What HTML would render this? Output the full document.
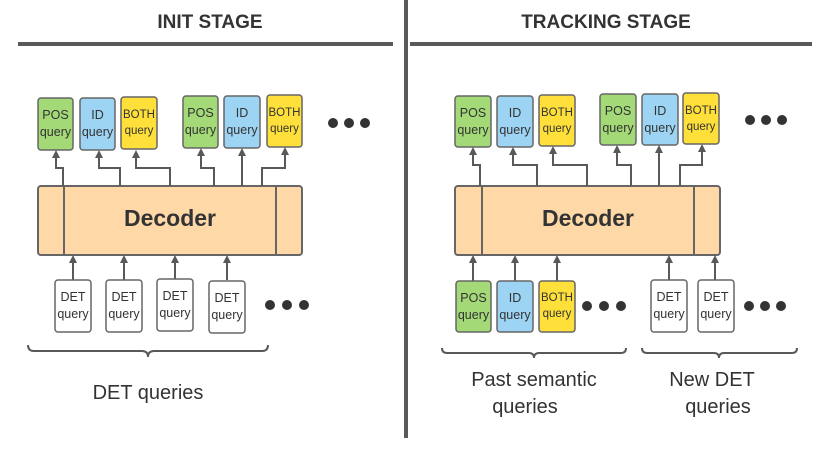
<!DOCTYPE html>
<html><head><meta charset="utf-8"><style>
html,body{margin:0;padding:0;background:#fff;}
svg{display:block;font-family:"Liberation Sans",sans-serif;}
</style></head><body>
<svg width="830" height="450" viewBox="0 0 830 450" xmlns="http://www.w3.org/2000/svg">
<defs>
<marker id="ah" markerWidth="8" markerHeight="8" refX="4" refY="4" orient="auto" markerUnits="userSpaceOnUse">
<path d="M0,0 L8,4 L0,8 z" fill="#595959"/></marker>
</defs>
<line x1="406" y1="0" x2="406" y2="438" stroke="#595959" stroke-width="4"/>
<line x1="18" y1="44" x2="393" y2="44" stroke="#595959" stroke-width="4"/>
<line x1="410" y1="44" x2="812" y2="44" stroke="#595959" stroke-width="4"/>
<text x="210" y="28" font-size="19" font-weight="bold" text-anchor="middle" fill="#333">INIT STAGE</text>
<text x="606" y="28" font-size="19" font-weight="bold" text-anchor="middle" fill="#333">TRACKING STAGE</text>

<g stroke="#666" stroke-width="2">
<rect x="38" y="186" width="264" height="69" rx="3" fill="#fed9a7"/>
<line x1="64" y1="186" x2="64" y2="255"/><line x1="276" y1="186" x2="276" y2="255"/>
<rect x="455" y="186" width="265" height="69" rx="3" fill="#fed9a7"/>
<line x1="482" y1="186" x2="482" y2="255"/><line x1="694" y1="186" x2="694" y2="255"/>
</g>
<text x="170" y="226" font-size="23" font-weight="bold" text-anchor="middle" fill="#333">Decoder</text>
<text x="588" y="226" font-size="23" font-weight="bold" text-anchor="middle" fill="#333">Decoder</text>

<g stroke="#595959" stroke-width="2" fill="none" marker-end="url(#ah)">
<path d="M63,186 V168 H56 V154"/>
<path d="M120,186 V168 H99 V154"/>
<path d="M170,186 V168 H136 V154"/>
<path d="M214,186 V168 H201 V152"/>
<path d="M242,186 V152"/>
<path d="M262,186 V168 H285 V151"/>
<path d="M480,186 V165 H473 V151"/>
<path d="M537,186 V165 H513 V151"/>
<path d="M587,186 V165 H553 V150"/>
<path d="M631,186 V165 H617 V149"/>
<path d="M659,186 V149"/>
<path d="M680,186 V165 H702 V148"/>
<path d="M73,280 V259"/><path d="M124,280 V259"/><path d="M175,280 V259"/><path d="M227,280 V259"/>
<path d="M473,281 V259"/><path d="M515,281 V259"/><path d="M557,281 V259"/><path d="M669,281 V259"/><path d="M715,281 V259"/>
</g>

<g stroke="#666" stroke-width="1.5">
<rect x="38" y="98" width="35" height="52" rx="3" fill="#a3d977"/>
<rect x="80" y="98" width="35" height="52" rx="3" fill="#9dd3f3"/>
<rect x="121" y="97" width="36" height="52" rx="3" fill="#ffe03a"/>
<rect x="183" y="96" width="35" height="52" rx="3" fill="#a3d977"/>
<rect x="224" y="96" width="36" height="52" rx="3" fill="#9dd3f3"/>
<rect x="267" y="95" width="35" height="52" rx="3" fill="#ffe03a"/>
<rect x="455" y="96" width="36" height="51" rx="3" fill="#a3d977"/>
<rect x="497" y="96" width="36" height="51" rx="3" fill="#9dd3f3"/>
<rect x="539" y="95" width="36" height="51" rx="3" fill="#ffe03a"/>
<rect x="600" y="94" width="36" height="51" rx="3" fill="#a3d977"/>
<rect x="642" y="94" width="36" height="51" rx="3" fill="#9dd3f3"/>
<rect x="683" y="93" width="36" height="51" rx="3" fill="#ffe03a"/>
<rect x="55" y="280" width="36" height="52" rx="3" fill="#fff"/>
<rect x="106" y="280" width="36" height="52" rx="3" fill="#fff"/>
<rect x="157" y="279" width="36" height="52" rx="3" fill="#fff"/>
<rect x="209" y="281" width="36" height="52" rx="3" fill="#fff"/>
<rect x="456" y="281" width="35" height="51" rx="3" fill="#a3d977"/>
<rect x="497" y="281" width="36" height="51" rx="3" fill="#9dd3f3"/>
<rect x="539" y="281" width="36" height="51" rx="3" fill="#ffe03a"/>
<rect x="651" y="280" width="36" height="52" rx="3" fill="#fff"/>
<rect x="698" y="280" width="36" height="52" rx="3" fill="#fff"/>
</g>
<g font-size="12.5" text-anchor="middle" fill="#333">
<text x="55.5" y="119">POS</text><text x="55.5" y="136">query</text>
<text x="97.5" y="119">ID</text><text x="97.5" y="136">query</text>
<text x="139" y="118" font-size="11.5">BOTH</text><text x="139" y="134" font-size="11.5">query</text>
<text x="200.5" y="117">POS</text><text x="200.5" y="134">query</text>
<text x="242" y="117">ID</text><text x="242" y="134">query</text>
<text x="284.5" y="116" font-size="11.5">BOTH</text><text x="284.5" y="132" font-size="11.5">query</text>
<text x="473" y="117">POS</text><text x="473" y="134">query</text>
<text x="515" y="117">ID</text><text x="515" y="134">query</text>
<text x="557" y="116" font-size="11.5">BOTH</text><text x="557" y="132" font-size="11.5">query</text>
<text x="618" y="115">POS</text><text x="618" y="132">query</text>
<text x="660" y="115">ID</text><text x="660" y="132">query</text>
<text x="701" y="114" font-size="11.5">BOTH</text><text x="701" y="130" font-size="11.5">query</text>
<text x="73" y="301">DET</text><text x="73" y="318">query</text>
<text x="124" y="301">DET</text><text x="124" y="318">query</text>
<text x="175" y="300">DET</text><text x="175" y="317">query</text>
<text x="227" y="302">DET</text><text x="227" y="319">query</text>
<text x="473.5" y="302">POS</text><text x="473.5" y="319">query</text>
<text x="515" y="302">ID</text><text x="515" y="319">query</text>
<text x="557" y="301" font-size="11.5">BOTH</text><text x="557" y="317" font-size="11.5">query</text>
<text x="669" y="301">DET</text><text x="669" y="318">query</text>
<text x="716" y="301">DET</text><text x="716" y="318">query</text>
</g>
<g fill="#333">
<circle cx="333" cy="123" r="5"/><circle cx="349" cy="123" r="5"/><circle cx="365" cy="123" r="5"/>
<circle cx="750" cy="120" r="5"/><circle cx="766" cy="120" r="5"/><circle cx="782" cy="120" r="5"/>
<circle cx="270" cy="305" r="5"/><circle cx="287" cy="305" r="5"/><circle cx="304" cy="305" r="5"/>
<circle cx="587" cy="306" r="5"/><circle cx="604" cy="306" r="5"/><circle cx="621" cy="306" r="5"/>
<circle cx="749" cy="306" r="5"/><circle cx="765" cy="306" r="5"/><circle cx="781" cy="306" r="5"/>
</g>
<g stroke="#595959" stroke-width="2" fill="none">
<path d="M28,345 Q28,351 34,351 H142 Q148,351 148,357 Q148,351 154,351 H262 Q268,351 268,345"/>
<path d="M442,348 Q442,353 447,353 H529 Q534,353 534,358 Q534,353 539,353 H621 Q626,353 626,348"/>
<path d="M642,348 Q642,353 647,353 H714 Q719,353 719,358 Q719,353 724,353 H792 Q797,353 797,348"/>
</g>
<g font-size="20" text-anchor="middle" fill="#333">
<text x="148" y="399">DET queries</text>
<text x="534" y="386">Past semantic</text><text x="525" y="413">queries</text>
<text x="712" y="386">New DET</text><text x="718" y="413">queries</text>
</g>
</svg>
</body></html>
